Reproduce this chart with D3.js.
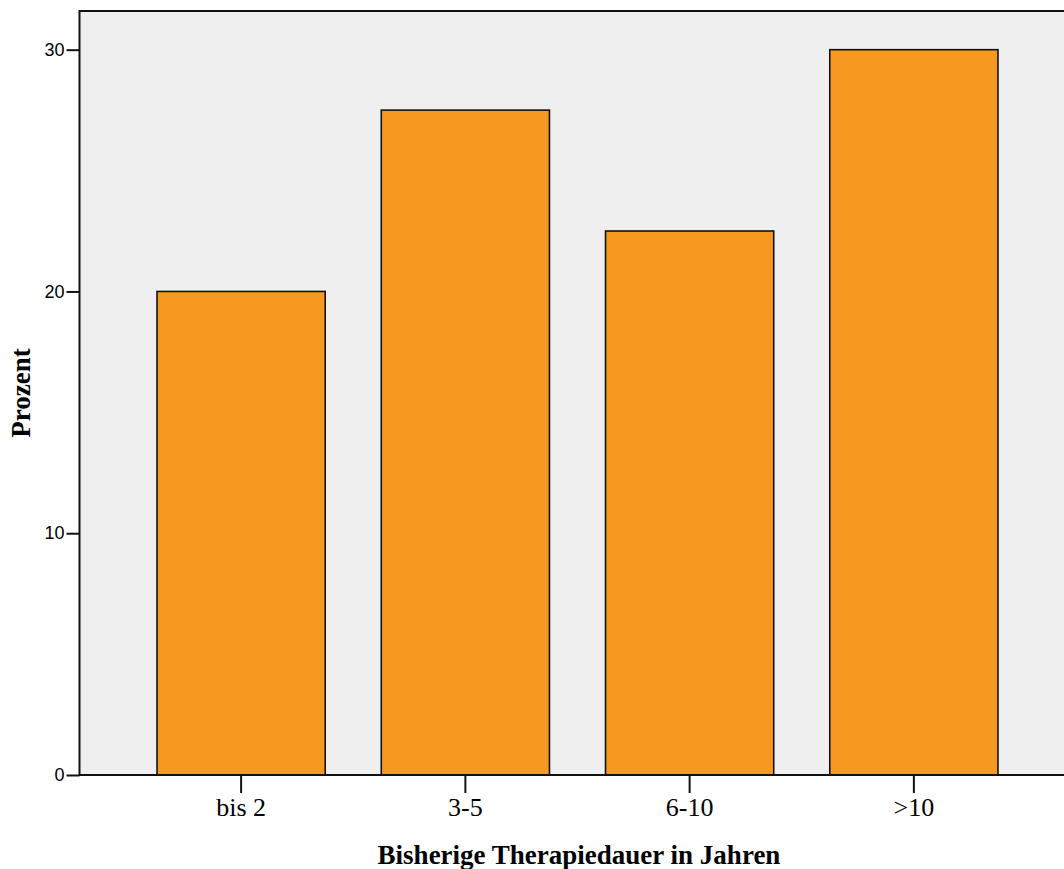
<!DOCTYPE html>
<html><head><meta charset="utf-8">
<script src="https://cdn.jsdelivr.net/npm/d3@7"></script>
<style>body{margin:0;background:#fff}svg{display:block}</style>
</head><body><svg id="c" width="1064" height="869"></svg>
<script>
const categories = ["bis 2", "3-5", "6-10", ">10"];
const values = [20, 27.5, 22.5, 30];
const yTicks = [0, 10, 20, 30];

const svg = d3.select("#c");
const plotLeft = 79.5, plotTop = 11, plotBottom = 775;
const y = d3.scaleLinear().domain([0, 31.6]).range([plotBottom, plotTop]);
const x = d3.scaleBand().domain(categories).range([129, 1026]).paddingInner(0.25).paddingOuter(0.125);

svg.append("rect").attr("x", plotLeft).attr("y", plotTop).attr("width", 1100).attr("height", plotBottom - plotTop)
  .attr("fill", "#efefef").attr("stroke", "#111").attr("stroke-width", 2);

svg.selectAll(".bar").data(values).join("rect").attr("class", "bar")
  .attr("x", (d, i) => x(categories[i]))
  .attr("y", d => y(d))
  .attr("width", x.bandwidth())
  .attr("height", d => plotBottom - y(d))
  .attr("fill", "#f7991f").attr("stroke", "#111").attr("stroke-width", 1.6);

const yAxis = svg.append("g").attr("transform", `translate(${plotLeft},0)`)
  .call(d3.axisLeft(y).tickValues(yTicks).tickSize(13).tickPadding(2));
yAxis.select(".domain").remove();
yAxis.selectAll("line").attr("stroke", "#111").attr("stroke-width", 2);
yAxis.selectAll("text").attr("font-family", "Liberation Sans, Arial, sans-serif").attr("font-size", 18).attr("fill", "#000");

const xAxis = svg.append("g").attr("transform", `translate(0,${plotBottom})`)
  .call(d3.axisBottom(x).tickSize(18).tickPadding(5));
xAxis.select(".domain").remove();
xAxis.selectAll("line").attr("stroke", "#111").attr("stroke-width", 2);
xAxis.selectAll("text").attr("font-family", "Liberation Serif, Times New Roman, serif").attr("font-size", 26).attr("fill", "#000");

svg.append("line").attr("x1", plotLeft).attr("x2", 1064).attr("y1", plotBottom).attr("y2", plotBottom).attr("stroke", "#111").attr("stroke-width", 2);

svg.append("text").attr("x", 579).attr("y", 864).attr("text-anchor", "middle")
  .attr("font-family", "Liberation Serif, Times New Roman, serif").attr("font-weight", "bold").attr("font-size", 27)
  .text("Bisherige Therapiedauer in Jahren");
svg.append("text").attr("transform", "translate(30,393) rotate(-90)").attr("text-anchor", "middle")
  .attr("font-family", "Liberation Serif, Times New Roman, serif").attr("font-weight", "bold").attr("font-size", 27)
  .text("Prozent");
</script></body></html>
